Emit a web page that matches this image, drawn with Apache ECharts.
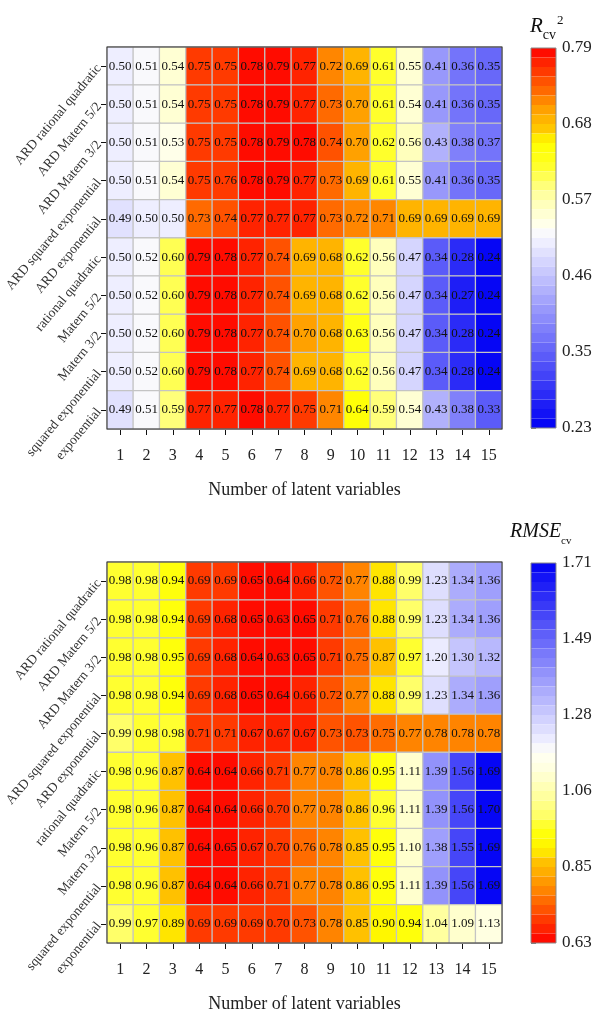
<!DOCTYPE html>
<html><head><meta charset="utf-8">
<script src="https://cdn.jsdelivr.net/npm/echarts@6/dist/echarts.min.js"></script>
<style>html,body{margin:0;padding:0;background:#fff}#c{width:603px;height:1014px}</style>
</head><body><div id="c"></div>
<script>
// ---------- categories ----------
const latentVars = ['1','2','3','4','5','6','7','8','9','10','11','12','13','14','15'];
const kernels = ['ARD rational quadratic','ARD Matern 5/2','ARD Matern 3/2','ARD squared exponential','ARD exponential','rational quadratic','Matern 5/2','Matern 3/2','squared exponential','exponential'];

// ---------- R2cv values (rows top -> bottom) ----------
const r2_ardRQ  = [0.50,0.51,0.54,0.75,0.75,0.78,0.79,0.77,0.72,0.69,0.61,0.55,0.41,0.36,0.35];
const r2_ardM52 = [0.50,0.51,0.54,0.75,0.75,0.78,0.79,0.77,0.73,0.70,0.61,0.54,0.41,0.36,0.35];
const r2_ardM32 = [0.50,0.51,0.53,0.75,0.75,0.78,0.79,0.78,0.74,0.70,0.62,0.56,0.43,0.38,0.37];
const r2_ardSE  = [0.50,0.51,0.54,0.75,0.76,0.78,0.79,0.77,0.73,0.69,0.61,0.55,0.41,0.36,0.35];
const r2_ardE   = [0.49,0.50,0.50,0.73,0.74,0.77,0.77,0.77,0.73,0.72,0.71,0.69,0.69,0.69,0.69];
const r2_RQ     = [0.50,0.52,0.60,0.79,0.78,0.77,0.74,0.69,0.68,0.62,0.56,0.47,0.34,0.28,0.24];
const r2_M52    = [0.50,0.52,0.60,0.79,0.78,0.77,0.74,0.69,0.68,0.62,0.56,0.47,0.34,0.27,0.24];
const r2_M32    = [0.50,0.52,0.60,0.79,0.78,0.77,0.74,0.70,0.68,0.63,0.56,0.47,0.34,0.28,0.24];
const r2_SE     = [0.50,0.52,0.60,0.79,0.78,0.77,0.74,0.69,0.68,0.62,0.56,0.47,0.34,0.28,0.24];
const r2_E      = [0.49,0.51,0.59,0.77,0.77,0.78,0.77,0.75,0.71,0.64,0.59,0.54,0.43,0.38,0.33];

// ---------- RMSEcv values (rows top -> bottom) ----------
const rm_ardRQ  = [0.98,0.98,0.94,0.69,0.69,0.65,0.64,0.66,0.72,0.77,0.88,0.99,1.23,1.34,1.36];
const rm_ardM52 = [0.98,0.98,0.94,0.69,0.68,0.65,0.63,0.65,0.71,0.76,0.88,0.99,1.23,1.34,1.36];
const rm_ardM32 = [0.98,0.98,0.95,0.69,0.68,0.64,0.63,0.65,0.71,0.75,0.87,0.97,1.20,1.30,1.32];
const rm_ardSE  = [0.98,0.98,0.94,0.69,0.68,0.65,0.64,0.66,0.72,0.77,0.88,0.99,1.23,1.34,1.36];
const rm_ardE   = [0.99,0.98,0.98,0.71,0.71,0.67,0.67,0.67,0.73,0.73,0.75,0.77,0.78,0.78,0.78];
const rm_RQ     = [0.98,0.96,0.87,0.64,0.64,0.66,0.71,0.77,0.78,0.86,0.95,1.11,1.39,1.56,1.69];
const rm_M52    = [0.98,0.96,0.87,0.64,0.64,0.66,0.70,0.77,0.78,0.86,0.96,1.11,1.39,1.56,1.70];
const rm_M32    = [0.98,0.96,0.87,0.64,0.65,0.67,0.70,0.76,0.78,0.85,0.95,1.10,1.38,1.55,1.69];
const rm_SE     = [0.98,0.96,0.87,0.64,0.64,0.66,0.71,0.77,0.78,0.86,0.95,1.11,1.39,1.56,1.69];
const rm_E      = [0.99,0.97,0.89,0.69,0.69,0.69,0.70,0.73,0.78,0.85,0.90,0.94,1.04,1.09,1.13];

// ---------- colour-bar tick labels ----------
const r2Ticks = ['0.23','0.35','0.46','0.57','0.68','0.79'];
const rmTicks = ['0.63','0.85','1.06','1.28','1.49','1.71'];
const r2Range = [0.23, 0.79];
const rmRange = [0.63, 1.71];

// ---------- styling: colour stops ----------
const r2Stops = [
  [0.23,[0,0,245]],[0.515,[248,248,255]],[0.53,[255,255,235]],[0.57,[255,255,170]],
  [0.62,[255,255,30]],[0.65,[255,255,0]],[0.67,[255,200,0]],[0.70,[255,160,0]],
  [0.73,[255,100,0]],[0.76,[255,50,0]],[0.79,[255,0,0]]
];
const rmStops = [
  [0.63,[255,0,0]],[0.70,[255,60,0]],[0.77,[255,125,0]],[0.82,[255,165,0]],
  [0.87,[255,200,0]],[0.89,[255,235,0]],[0.93,[255,255,0]],[0.96,[255,255,30]],
  [0.99,[255,255,100]],[1.05,[255,255,160]],[1.12,[255,255,220]],[1.17,[255,255,245]],
  [1.20,[240,240,255]],[1.71,[0,0,245]]
];

function colorAt(v, stops){
  if (v <= stops[0][0]) return rgb(stops[0][1]);
  for (let i=1;i<stops.length;i++){
    if (v <= stops[i][0]){
      const a=stops[i-1], b=stops[i];
      const t=(v-a[0])/(b[0]-a[0]);
      return rgb(a[1].map((c,k)=>c+(b[1][k]-c)*t));
    }
  }
  return rgb(stops[stops.length-1][1]);
}
function rgb(c){return 'rgb('+c.map(x=>Math.round(x)).join(',')+')';}
function makePieces(range, n, stops){
  const [mn,mx]=range, step=(mx-mn)/n, out=[];
  for(let i=0;i<n;i++){
    const lo=mn+i*step, hi=lo+step;
    const p={color:colorAt((lo+hi)/2, stops)};
    if(i>0) p.gte=lo;
    if(i<n-1) p.lt=hi;
    out.push(p);
  }
  return out;
}
function toCells(rows){
  const d=[];
  rows.forEach((r,y)=>r.forEach((v,x)=>d.push([x,y,v])));
  return d;
}
const r2Rows=[r2_ardRQ,r2_ardM52,r2_ardM32,r2_ardSE,r2_ardE,r2_RQ,r2_M52,r2_M32,r2_SE,r2_E];
const rmRows=[rm_ardRQ,rm_ardM52,rm_ardM32,rm_ardSE,rm_ardE,rm_RQ,rm_M52,rm_M32,rm_SE,rm_E];

const SERIF='"Liberation Serif","Times New Roman",serif';
const NBANDS=40;
const G=[{top:47},{top:562}];
const CB=[{top:48},{top:563}];

function heatX(i){return {
  type:'category', gridIndex:i, data:latentVars,
  axisLine:{show:true,lineStyle:{color:'#111',width:1}},
  axisTick:{show:true,alignWithLabel:true,length:6,lineStyle:{color:'#111'}},
  axisLabel:{interval:0,fontFamily:SERIF,fontSize:16,color:'#222',margin:19},
  splitLine:{show:false},
  name:'Number of latent variables', nameLocation:'middle', nameGap:52,
  nameTextStyle:{fontFamily:SERIF,fontSize:18,color:'#222'}
};}
function heatY(i){return {
  type:'category', gridIndex:i, data:kernels, inverse:true,
  axisLine:{show:true,lineStyle:{color:'#111',width:1}},
  axisTick:{show:true,alignWithLabel:true,length:6,lineStyle:{color:'#111'}},
  axisLabel:{interval:0,rotate:50,fontFamily:SERIF,fontSize:13.5,color:'#333',margin:8},
  splitLine:{show:false}
};}
function cbX(i){return {type:'value',gridIndex:i,min:0,max:1,show:false};}
function cbY(i,ticks){return {
  type:'value',gridIndex:i,min:0,max:ticks.length-1,interval:1,position:'right',
  axisLine:{show:false},
  axisTick:{show:true,length:5,lineStyle:{color:'#777'}},
  splitLine:{show:false},
  axisLabel:{fontFamily:SERIF,fontSize:17,color:'#222',margin:6,formatter:(v)=>ticks[Math.round(v)]}
};}
function heatSeries(i,rows){return {
  type:'heatmap', xAxisIndex:i, yAxisIndex:i, data:toCells(rows),
  itemStyle:{borderColor:'#c4c4c4',borderWidth:1.3},
  label:{show:true,fontFamily:SERIF,fontSize:13,color:'#111',formatter:(p)=>p.value[2].toFixed(2)},
  emphasis:{disabled:true}, silent:true
};}
function vm(i,range,stops,top){return {
  type:'piecewise', seriesIndex:i, orient:'vertical', left:531, top:top,
  itemWidth:25, itemHeight:380/NBANDS, itemGap:0, itemSymbol:'rect',
  showLabel:false, selectedMode:false, hoverLink:false, padding:0, text:null,
  pieces:makePieces(range,NBANDS,stops)
};}

const option={
  backgroundColor:'#fff',
  animation:false,
  title:[
    {left:525,top:7,text:'{r|R}{s|cv}{p|2}',textStyle:{fontWeight:'normal',rich:{
      r:{fontFamily:SERIF,fontStyle:'italic',fontWeight:'normal',fontSize:21,color:'#111',lineHeight:28,verticalAlign:'middle'},
      s:{fontFamily:SERIF,fontWeight:'normal',fontSize:14,color:'#111',lineHeight:14,verticalAlign:'bottom',padding:[0,0,-2,0]},
      p:{fontFamily:SERIF,fontWeight:'normal',fontSize:13,color:'#111',lineHeight:13,verticalAlign:'top',padding:[2,0,0,1]}
    }}},
    {left:505,top:513,text:'{r|RMSE}{s|cv}',textStyle:{fontWeight:'normal',rich:{
      r:{fontFamily:SERIF,fontStyle:'italic',fontWeight:'normal',fontSize:20,color:'#111',lineHeight:27,verticalAlign:'middle'},
      s:{fontFamily:SERIF,fontWeight:'normal',fontSize:11,color:'#111',lineHeight:11,verticalAlign:'bottom',padding:[0,0,-2,0]}
    }}}
  ],
  grid:[
    {left:107,top:G[0].top,width:395,height:382,show:true,borderColor:'#333',borderWidth:1,backgroundColor:'transparent',z:5},
    {left:107,top:G[1].top,width:395,height:382,show:true,borderColor:'#333',borderWidth:1,backgroundColor:'transparent',z:5},
    {left:531,top:CB[0].top,width:25,height:380,show:true,borderColor:'#888',borderWidth:1,backgroundColor:'transparent',z:10},
    {left:531,top:CB[1].top,width:25,height:380,show:true,borderColor:'#888',borderWidth:1,backgroundColor:'transparent',z:10}
  ],
  xAxis:[heatX(0),heatX(1),cbX(2),cbX(3)],
  yAxis:[heatY(0),heatY(1),cbY(2,r2Ticks),cbY(3,rmTicks)],
  visualMap:[vm(0,r2Range,r2Stops,CB[0].top),vm(1,rmRange,rmStops,CB[1].top)],
  series:[heatSeries(0,r2Rows),heatSeries(1,rmRows)]
};
const chart=echarts.init(document.getElementById('c'),null,{renderer:'canvas'});
chart.setOption(option);
</script></body></html>
